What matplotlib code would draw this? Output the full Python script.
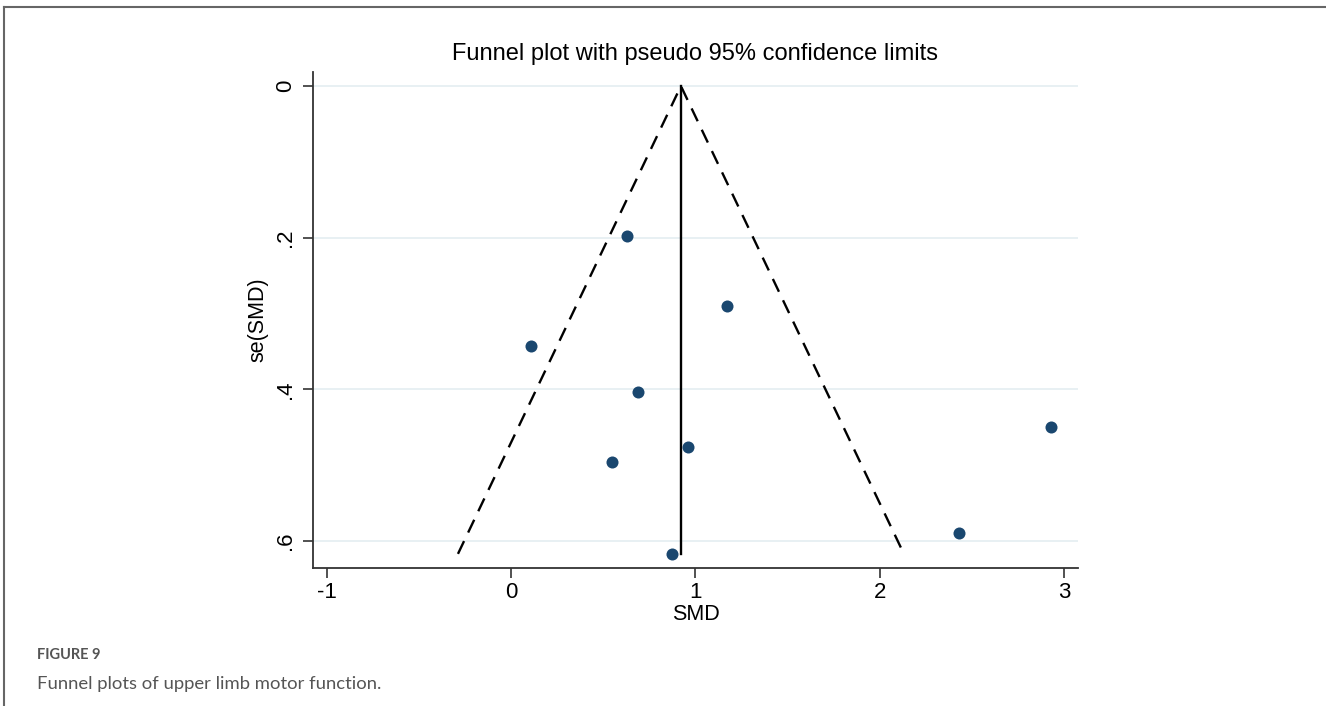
import numpy as np
import matplotlib.pyplot as plt
from matplotlib.lines import Line2D

# Study effects (SMD) and their standard errors
smd = [0.63, 1.17, 0.11, 0.69, 0.96, 0.55, 2.93, 2.43, 0.875]
se_smd = [0.198, 0.290, 0.343, 0.404, 0.476, 0.496, 0.450, 0.589, 0.617]

pooled = 0.922          # fixed-effect estimate (vertical line)
x_ticks = [-1, 0, 1, 2, 3]
x_tick_labels = ["-1", "0", "1", "2", "3"]
y_ticks = [0, 0.2, 0.4, 0.6]
y_tick_labels = ["0", ".2", ".4", ".6"]

plt.rcParams['font.family'] = ['Liberation Sans', 'DejaVu Sans']

fig = plt.figure(figsize=(13.26, 7.06), dpi=100)
ax = fig.add_axes([0.236, 0.1955, 0.577, 0.7025])

# pseudo 95% confidence limits
se_max = max(se_smd)
ax.plot([pooled - 1.96 * se_max, pooled, pooled + 1.96 * se_max],
        [se_max, 0, se_max], color="black", lw=1.7, ls=(0, (6, 4)))
ax.plot([pooled, pooled], [0, se_max], color="black", lw=1.7)

ax.scatter(smd, se_smd, s=75, color="#1a476f", zorder=3, linewidths=0)

ax.set_xlim(-1.074, 3.076)
ax.set_ylim(0.6356, -0.0185)
ax.set_xticks(x_ticks)
ax.set_xticklabels(x_tick_labels)
ax.set_yticks(y_ticks)
ax.set_yticklabels(y_tick_labels, rotation=90, va="center")
ax.tick_params(axis="both", labelsize=16, length=7, width=1.2, color="#333333")
ax.tick_params(axis="y", pad=5)
ax.tick_params(axis="x", pad=3)
ax.grid(axis="y", color="#e4eef1", lw=1.2)
ax.set_axisbelow(True)

for side in ["top", "right"]:
    ax.spines[side].set_visible(False)
for side in ["left", "bottom"]:
    ax.spines[side].set_linewidth(1.3)
    ax.spines[side].set_color("#333333")

ax.set_xlabel("SMD", fontsize=15.5, labelpad=1)
ax.set_ylabel("se(SMD)", fontsize=15.5, labelpad=5)
ax.set_title("Funnel plot with pseudo 95% confidence limits", fontsize=17, pad=9)

# outer frame and caption
fig.add_artist(Line2D([0.003, 1.0], [0.990, 0.990], color="#666666", lw=1.5))
fig.add_artist(Line2D([0.003, 0.003], [0.0, 0.990], color="#666666", lw=1.5))
fig.text(0.028, 0.066, "FIGURE 9", fontsize=10.5, fontweight="bold", color="#555555",
         family=["Lato", "DejaVu Sans"])
fig.text(0.028, 0.024, "Funnel plots of upper limb motor function.", fontsize=13.3,
         color="#555555", family=["Lato", "DejaVu Sans"])

fig.savefig("out.png", dpi=100)
